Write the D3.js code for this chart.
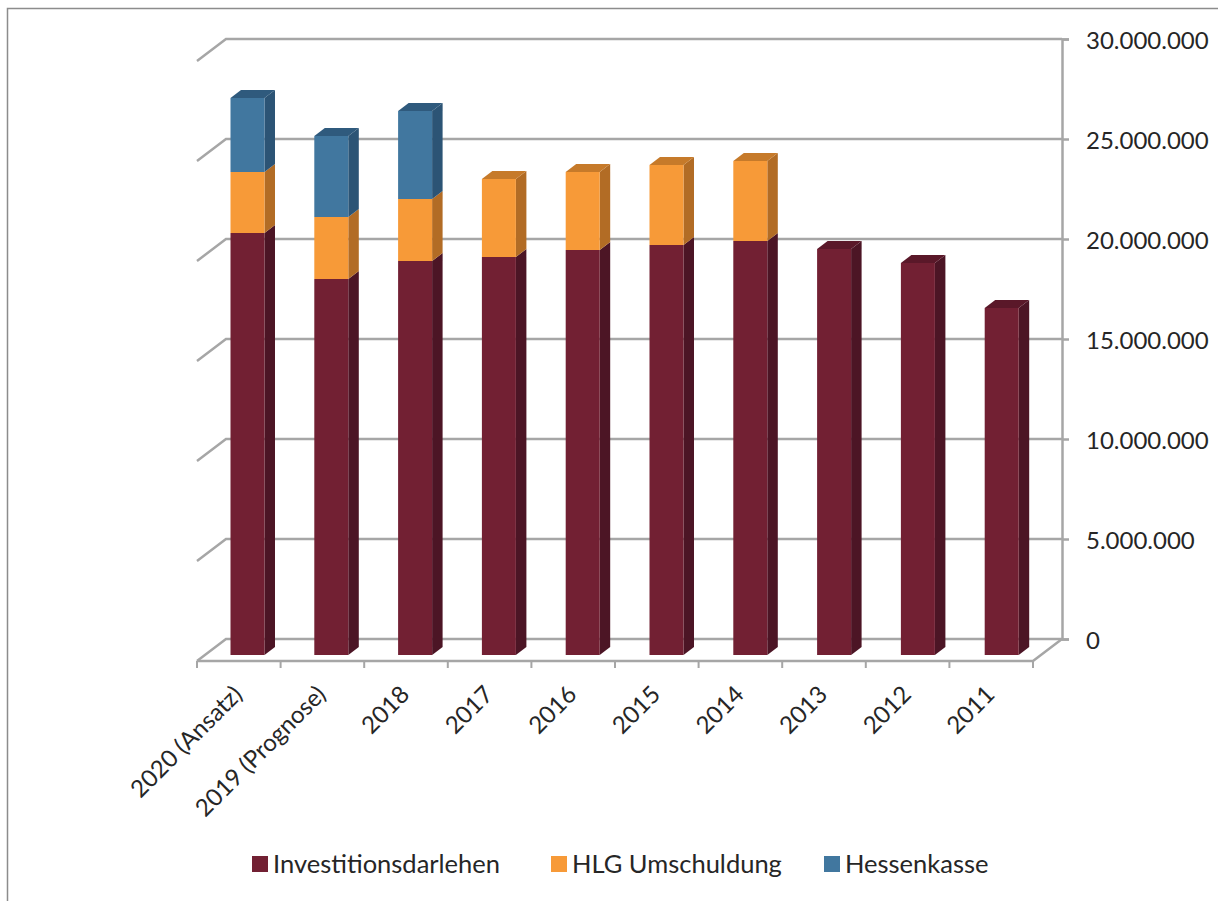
<!DOCTYPE html>
<html>
<head>
<meta charset="utf-8">
<script src="https://cdn.jsdelivr.net/npm/d3@7"></script>
<style>
    html, body { margin: 0; background: #fff; }
    svg { display: block; }
    text { font-family: Lato, sans-serif; fill: #262626; }
</style>
</head>
<body>
<div id="chart"></div>
<script>
var categories = ['2020 (Ansatz)', '2019 (Prognose)', '2018', '2017', '2016', '2015', '2014', '2013', '2012', '2011'];
var seriesNames = ['Investitionsdarlehen', 'HLG Umschuldung', 'Hessenkasse'];
var investitionsdarlehen = [21100000, 18800000, 19700000, 19900000, 20250000, 20500000, 20700000, 20300000, 19600000, 17350000];
var hlgUmschuldung = [3050000, 3100000, 3100000, 3900000, 3900000, 4000000, 4000000, 0, 0, 0];
var hessenkasse = [3700000, 4050000, 4400000, 0, 0, 0, 0, 0, 0, 0];
var yTicks = [0, 5000000, 10000000, 15000000, 20000000, 25000000, 30000000];

var frontColors = ['#722033', '#f79a38', '#41779f'];
var sideColors = ['#4c1525', '#b26c25', '#2c5475'];
var topColors = ['#5a1829', '#c67a2a', '#2f5a7d'];

var width = 1218, height = 901,
    floorLeft = 197, floorRight = 1033, floorY = 661,
    wallDx = 29, wallDy = -22,
    barDx = 10.5, barDy = -8,
    barBase = 655, barLeft = 230.5, barWidth = 34,
    gridColor = '#a6a6a6';

var svg = d3.select('#chart').append('svg')
    .attr('width', width)
    .attr('height', height);

// frame of the embedded picture
svg.append('path')
    .attr('d', 'M1218,8.5H7.5V901')
    .attr('fill', 'none')
    .attr('stroke', '#8c8c8c')
    .attr('stroke-width', 1.5);

var xScale = d3.scaleBand().domain(categories).range([floorLeft, floorRight]);
// bars sit on a slightly wider step than the floor ticks
var barScaleX = d3.scaleBand().domain(categories).range([barLeft, barLeft + 838]);
var wallScale = d3.scaleLinear().domain([0, 30000000]).range([floorY + wallDy, 39]);
var barScale = d3.scaleLinear().domain([0, 30000000]).range([barBase, barBase - 600]);

var deFormat = d3.formatLocale({decimal: ',', thousands: '.', grouping: [3], currency: ['', ' €']}).format(',d');

// back wall and left wall
var grid = svg.append('g')
    .attr('fill', 'none')
    .attr('stroke', gridColor)
    .attr('stroke-width', 2.5);

grid.selectAll('.wall')
    .data(yTicks)
    .enter()
    .append('path')
    .attr('class', 'wall')
    .attr('d', function(d) {
        var y = wallScale(d);
        return 'M' + floorLeft + ',' + (y - wallDy) + 'L' + (floorLeft + wallDx) + ',' + y + 'H' + (floorRight + wallDx);
    });

// floor
grid.append('path')
    .attr('d', 'M' + floorLeft + ',' + floorY + 'H' + floorRight + 'L' + (floorRight + wallDx) + ',' + (floorY + wallDy));

// right axis
var yAxis = d3.axisRight(wallScale)
    .tickValues(yTicks)
    .tickSize(7)
    .tickPadding(17)
    .tickFormat(deFormat);

var yy = svg.append('g')
    .attr('transform', 'translate(' + (floorRight + wallDx) + ',0)')
    .call(yAxis);

yy.selectAll('path, line').attr('stroke', gridColor).attr('stroke-width', 2.5);
yy.selectAll('text').style('font-size', '24px').attr('dy', '.4em');

// bottom axis
var xAxis = d3.axisBottom(xScale).tickSize(0).tickSizeOuter(0);
var xx = svg.append('g')
    .attr('transform', 'translate(0,' + floorY + ')')
    .call(xAxis);

xx.select('.domain').remove();
xx.selectAll('text')
    .style('font-size', '24px')
    .attr('text-anchor', 'end')
    .attr('transform', 'translate(-1,29) rotate(-45)')
    .attr('x', 0)
    .attr('y', 0)
    .attr('dy', '.35em');

var boundaries = categories.map(function(c) { return xScale(c); }).concat([floorRight]);
svg.append('g').selectAll('line')
    .data(boundaries)
    .enter()
    .append('line')
    .attr('x1', function(d) { return d; })
    .attr('x2', function(d) { return d; })
    .attr('y1', floorY)
    .attr('y2', floorY + 7)
    .attr('stroke', gridColor)
    .attr('stroke-width', 2);

// stacked 3d bars
var rows = categories.map(function(c, i) {
    return {category: c, s0: investitionsdarlehen[i], s1: hlgUmschuldung[i], s2: hessenkasse[i]};
});
var stacked = d3.stack().keys(['s0', 's1', 's2'])(rows);

var group = svg.append('g').selectAll('.group')
    .data(rows)
    .enter()
    .append('g')
    .attr('class', 'group');

group.each(function(row, r) {
    var g = d3.select(this),
        x0 = barScaleX(row.category),
        x1 = x0 + barWidth;

    stacked.forEach(function(layer, s) {
        var d = layer[r];
        if (d[1] === d[0]) return;
        var yb = barScale(d[0]), yt = barScale(d[1]);

        g.append('polygon')
            .attr('fill', sideColors[s])
            .attr('points', [[x1, yb], [x1 + barDx, yb + barDy], [x1 + barDx, yt + barDy], [x1, yt]].join(' '));

        g.append('rect')
            .attr('x', x0)
            .attr('y', yt)
            .attr('width', barWidth)
            .attr('height', yb - yt)
            .attr('fill', frontColors[s]);

        // only the topmost segment shows its lid
        if (layer[r][1] === stacked[stacked.length - 1][r][1]) {
            g.append('polygon')
                .attr('fill', topColors[s])
                .attr('points', [[x0, yt], [x0 + barDx, yt + barDy], [x1 + barDx, yt + barDy], [x1, yt]].join(' '));
        }
    });
});

// legend
var legendX = [252, 551, 824];
var legend = svg.append('g').selectAll('.legend')
    .data(seriesNames)
    .enter()
    .append('g')
    .attr('class', 'legend')
    .attr('transform', function(d, i) { return 'translate(' + legendX[i] + ',856)'; });

legend.append('rect')
    .attr('width', 16)
    .attr('height', 16)
    .attr('fill', function(d, i) { return frontColors[i]; });

legend.append('text')
    .attr('x', 21)
    .attr('y', 8)
    .attr('dy', '.36em')
    .style('font-size', '25.5px')
    .text(function(d) { return d; });
</script>
</body>
</html>
